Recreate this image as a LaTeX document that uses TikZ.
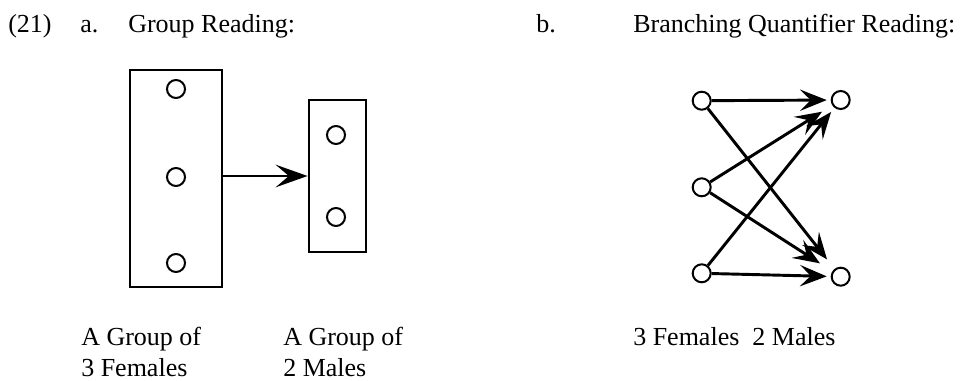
\documentclass[tikz,border=0pt]{standalone}
\usepackage{fontspec}
\setmainfont{Liberation Serif}
\usetikzlibrary{arrows.meta}

\begin{document}
\begin{tikzpicture}[
        x=0.75pt, y=-0.75pt,
        every node/.style={font=\fontsize{19.5}{24}\selectfont},
        label text/.style={anchor=base west, inner sep=0pt, align=left},
        group box/.style={draw, line width=1.9pt, inner sep=0pt},
        member/.style={circle, draw, line width=1.5pt, minimum size=13.5pt, inner sep=0pt},
        group arrow/.style={line width=1.5pt, -{Stealth[length=24pt, width=17pt, inset=10pt]}},
        branch arrow/.style={line width=2.2pt, -{Stealth[length=20pt, width=16pt, inset=8pt]}}
    ]
    \useasboundingbox (0,0) rectangle (965,381);

    % headings
    \node[label text] (num)    at (8,33)   {(21)};
    \node[label text] (ma)     at (80,33)  {a.};
    \node[label text] (titlea) at (128,33) {Group Reading:};
    \node[label text] (mb)     at (536,33) {b.};
    \node[label text] (titleb) at (633,33) {Branching Quantifier Reading:};

    % a. group reading
    \node[group box, minimum width=69pt, minimum height=163pt] (females) at (176,178.5) {};
    \node[group box, minimum width=43pt, minimum height=114pt] (males) at (337.5,176) {};
    \foreach \y in {89,177,263} {
        \node[member] at (176,\y) {};
    }
    \foreach \y in {135,217} {
        \node[member] at (336,\y) {};
    }
    \draw[group arrow] (females.east |- males.west) -- (males.west);

    % base of a two-line node is its last line
    \node[label text] (capfem)  at (81,377)  {A Group of\\3 Females};
    \node[label text] (capmale) at (283,377) {A Group of\\2 Males};

    % b. branching quantifier reading
    \foreach \n/\y in {1/100.7, 2/187.3, 3/273.3} {
        \node[member] (f\n) at (701.7,\y) {};
    }
    \foreach \n/\y in {1/100, 2/276.7} {
        \node[member] (m\n) at (840.7,\y) {};
    }
    \foreach \p/\q/\s in {f1/m1/3pt, f1/m2/9pt, f2/m1/9pt, f2/m2/11pt, f3/m1/4pt, f3/m2/3pt} {
        \draw[branch arrow, shorten >=\s] (\p) -- (\q);
    }

    \node[label text] (capb) at (633,345) {3 Females~~2 Males};

\end{tikzpicture}
\end{document}
